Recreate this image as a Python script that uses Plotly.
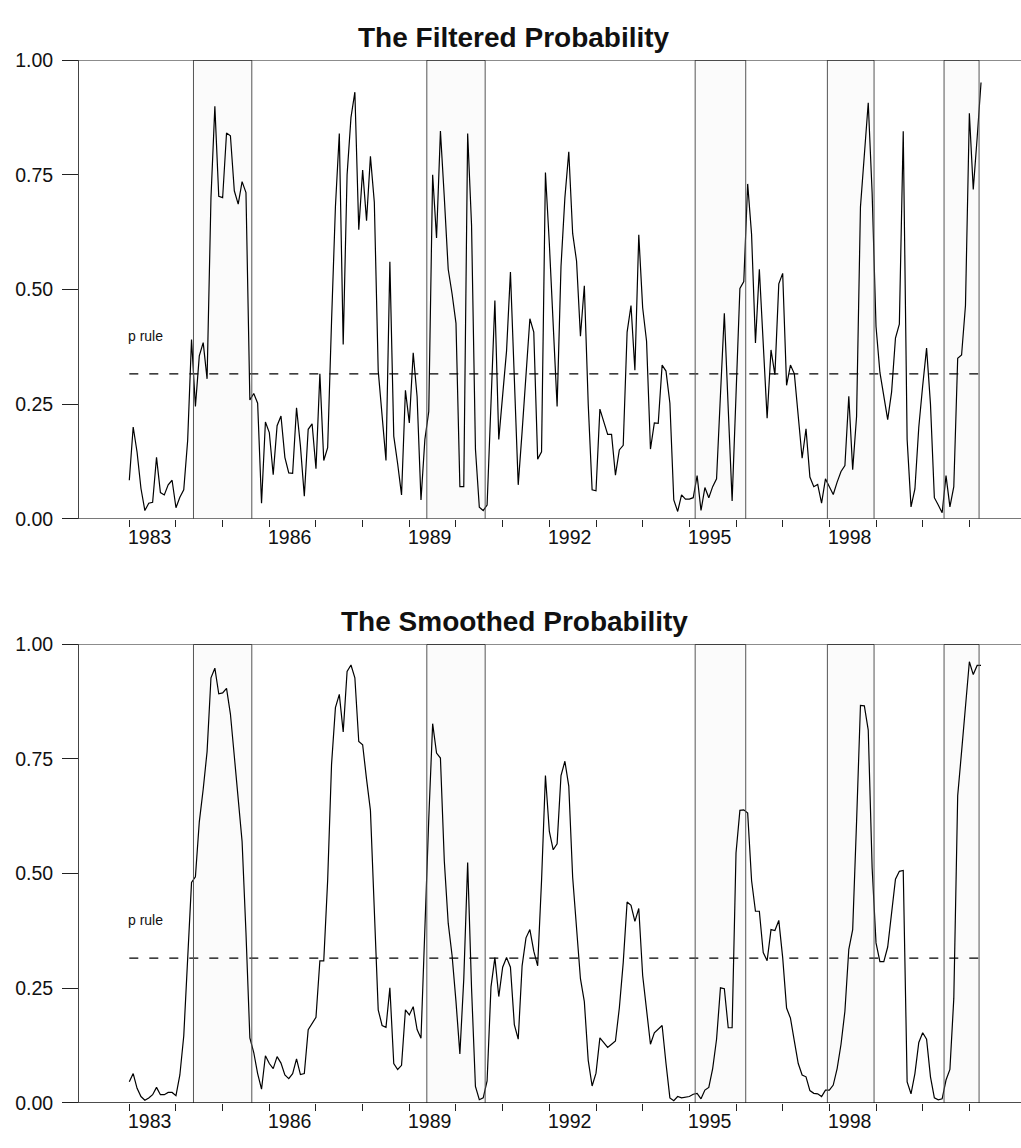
import numpy as np
import plotly.graph_objects as go

# ---------------- data (monthly, 1983:01 - 2001:04) ----------------
start_year = 1983
filtered = [
    0.084, 0.200, 0.145, 0.066, 0.018, 0.034, 0.036, 0.134, 0.057, 0.052, 0.074, 0.084,
    0.024, 0.047, 0.063, 0.170, 0.391, 0.245, 0.355, 0.384, 0.305, 0.700, 0.899, 0.703,
    0.700, 0.841, 0.835, 0.715, 0.686, 0.735, 0.711, 0.259, 0.273, 0.252, 0.034, 0.211,
    0.188, 0.096, 0.203, 0.224, 0.134, 0.100, 0.099, 0.242, 0.159, 0.049, 0.195, 0.207,
    0.109, 0.316, 0.127, 0.155, 0.430, 0.680, 0.840, 0.380, 0.750, 0.875, 0.930, 0.630,
    0.760, 0.650, 0.790, 0.690, 0.323, 0.220, 0.127, 0.560, 0.180, 0.120, 0.052, 0.280,
    0.209, 0.362, 0.266, 0.041, 0.173, 0.234, 0.750, 0.612, 0.845, 0.700, 0.544, 0.490,
    0.426, 0.070, 0.070, 0.840, 0.640, 0.152, 0.025, 0.018, 0.030, 0.252, 0.476, 0.173,
    0.270, 0.366, 0.538, 0.300, 0.074, 0.190, 0.316, 0.436, 0.407, 0.130, 0.146, 0.755,
    0.600, 0.438, 0.245, 0.550, 0.700, 0.800, 0.622, 0.562, 0.398, 0.508, 0.250, 0.063,
    0.061, 0.239, 0.210, 0.184, 0.184, 0.095, 0.150, 0.160, 0.407, 0.465, 0.324, 0.619,
    0.460, 0.387, 0.152, 0.209, 0.208, 0.335, 0.322, 0.252, 0.041, 0.016, 0.052, 0.043,
    0.043, 0.046, 0.094, 0.018, 0.068, 0.046, 0.070, 0.087, 0.270, 0.448, 0.240, 0.039,
    0.270, 0.502, 0.517, 0.730, 0.620, 0.383, 0.544, 0.380, 0.219, 0.368, 0.314, 0.512,
    0.535, 0.291, 0.335, 0.316, 0.220, 0.132, 0.196, 0.091, 0.070, 0.075, 0.034, 0.087,
    0.070, 0.053, 0.080, 0.103, 0.116, 0.267, 0.107, 0.223, 0.680, 0.790, 0.907, 0.710,
    0.419, 0.319, 0.267, 0.216, 0.276, 0.394, 0.424, 0.845, 0.173, 0.026, 0.065, 0.200,
    0.290, 0.372, 0.250, 0.046, 0.030, 0.013, 0.094, 0.026, 0.070, 0.350, 0.357, 0.465,
    0.884, 0.718, 0.830, 0.951,
]
smoothed = [
    0.046, 0.064, 0.032, 0.014, 0.006, 0.011, 0.018, 0.034, 0.018, 0.018, 0.023, 0.023,
    0.016, 0.061, 0.146, 0.299, 0.481, 0.493, 0.613, 0.684, 0.766, 0.927, 0.948, 0.892,
    0.894, 0.904, 0.848, 0.756, 0.663, 0.570, 0.371, 0.142, 0.110, 0.064, 0.030, 0.103,
    0.086, 0.075, 0.101, 0.087, 0.061, 0.053, 0.064, 0.096, 0.062, 0.064, 0.160, 0.175,
    0.187, 0.310, 0.310, 0.485, 0.738, 0.862, 0.891, 0.809, 0.941, 0.955, 0.927, 0.788,
    0.781, 0.706, 0.638, 0.420, 0.203, 0.169, 0.165, 0.251, 0.086, 0.073, 0.082, 0.203,
    0.192, 0.210, 0.160, 0.141, 0.400, 0.620, 0.827, 0.763, 0.752, 0.527, 0.392, 0.321,
    0.221, 0.107, 0.270, 0.524, 0.250, 0.036, 0.007, 0.011, 0.048, 0.253, 0.317, 0.232,
    0.296, 0.317, 0.296, 0.171, 0.139, 0.299, 0.360, 0.378, 0.331, 0.299, 0.485, 0.714,
    0.592, 0.552, 0.565, 0.714, 0.745, 0.691, 0.492, 0.371, 0.271, 0.221, 0.093, 0.037,
    0.065, 0.142, 0.132, 0.121, 0.128, 0.135, 0.207, 0.306, 0.438, 0.431, 0.396, 0.424,
    0.278, 0.207, 0.128, 0.153, 0.160, 0.169, 0.086, 0.011, 0.005, 0.014, 0.011, 0.012,
    0.014, 0.019, 0.021, 0.009, 0.028, 0.034, 0.075, 0.139, 0.251, 0.249, 0.164, 0.164,
    0.545, 0.638, 0.639, 0.632, 0.485, 0.418, 0.418, 0.328, 0.310, 0.378, 0.376, 0.398,
    0.317, 0.207, 0.185, 0.135, 0.086, 0.061, 0.057, 0.027, 0.021, 0.020, 0.014, 0.028,
    0.028, 0.039, 0.075, 0.128, 0.200, 0.335, 0.378, 0.613, 0.867, 0.866, 0.813, 0.513,
    0.349, 0.308, 0.308, 0.340, 0.420, 0.488, 0.505, 0.507, 0.046, 0.020, 0.064, 0.132,
    0.153, 0.139, 0.057, 0.011, 0.007, 0.009, 0.050, 0.073, 0.228, 0.670, 0.766, 0.870,
    0.962, 0.934, 0.954, 0.954,
]
p_rule = 0.316
regime_start = [1984.375, 1989.375, 1995.125, 1997.958, 2000.458]
regime_end = [1985.625, 1990.625, 1996.208, 1998.958, 2001.208]
year_labels = [1983, 1986, 1989, 1992, 1995, 1998]
year_ticks = list(range(1983, 2002))
ytick_vals = [0.0, 0.25, 0.5, 0.75, 1.0]
ytick_text = ["0.00", "0.25", "0.50", "0.75", "1.00"]
titles = ["The Filtered Probability", "The Smoothed Probability"]

months = np.arange(len(filtered))
x = start_year + months / 12.0

# ---------------- layout geometry ----------------
W, H = 1021, 1148
L = 79
PX_PER_YEAR = 46.67
x_lo = 1983 - (129.3 - L) / PX_PER_YEAR
x_hi = x_lo + (W - L) / PX_PER_YEAR
dom_top = [1 - 517.7 / H, 1 - 50.0 / H]
dom_bot = [1 - 1113.3 / H, 1 - 645.7 / H]
title_x = (514 - L) / (W - L)

FONT = "Liberation Sans, Arial, Helvetica, sans-serif"

fig = go.Figure()
shapes = []
annotations = []

panels = [("x", "y", filtered, dom_top, titles[0]), ("x2", "y2", smoothed, dom_bot, titles[1])]
for k, (xr, yr, series, dom, title) in enumerate(panels):
    # shaded regimes
    for s, e in zip(regime_start, regime_end):
        shapes.append(dict(type="rect", xref=xr, yref=yr, x0=s, x1=e, y0=0, y1=1,
                           fillcolor="#fbfbfb", line=dict(width=0), layer="below"))
        for xv in (s, e):
            shapes.append(dict(type="line", xref=xr, yref=yr, x0=xv, x1=xv, y0=0, y1=1,
                               line=dict(color="#555555", width=1)))
        shapes.append(dict(type="line", xref=xr, yref=yr, x0=s, x1=e, y0=1, y1=1,
                           line=dict(color="#111111", width=1.5)))
    # top line at 1.00 and bottom axis line at 0.00
    shapes.append(dict(type="line", xref=xr + " domain", yref=yr, x0=0, x1=1, y0=1, y1=1,
                       line=dict(color="#666666", width=1.2), layer="below"))
    shapes.append(dict(type="line", xref=xr + " domain", yref=yr, x0=0, x1=1, y0=0, y1=0,
                       line=dict(color="#111111", width=1.2)))

    fig.add_trace(go.Scatter(x=x, y=series, mode="lines", xaxis=xr, yaxis=yr,
                             line=dict(color="black", width=1.2), showlegend=False,
                             hoverinfo="skip"))
    fig.add_trace(go.Scatter(x=[x[0], x[-1]], y=[p_rule, p_rule], mode="lines",
                             xaxis=xr, yaxis=yr, showlegend=False, hoverinfo="skip",
                             line=dict(color="black", width=1.3, dash="9px,11px")))

    annotations.append(dict(xref=xr, yref=yr, x=1982.93, y=0.398, text="p rule",
                            showarrow=False, xanchor="left", yanchor="middle",
                            font=dict(family=FONT, size=14, color="#111111")))
    for yl in year_labels:
        annotations.append(dict(xref=xr, yref=yr, x=yl, y=0, yshift=-18, text=str(yl),
                                showarrow=False, xanchor="left", yanchor="middle",
                                xshift=-3,
                                font=dict(family=FONT, size=19.5, color="#111111")))
    annotations.append(dict(xref="paper", yref="paper", x=title_x,
                            y=dom[1], yshift=23, text="<b>%s</b>" % title, showarrow=False,
                            xanchor="center", yanchor="middle",
                            font=dict(family=FONT, size=28, color="#111111")))

axis_common_x = dict(range=[x_lo, x_hi], showgrid=False, zeroline=False, showline=False,
                     ticks="outside", ticklen=7, tickcolor="#222222", tickwidth=1,
                     tickvals=year_ticks, showticklabels=False)
axis_common_y = dict(range=[0, 1], showgrid=False, zeroline=False, showline=True,
                     linecolor="#444444", linewidth=1, ticks="outside", ticklen=16,
                     tickcolor="#222222", tickwidth=1.2, tickvals=ytick_vals,
                     ticktext=ytick_text, ticklabelstandoff=5,
                     tickfont=dict(family=FONT, size=19.5, color="#111111"))

fig.update_layout(
    width=W, height=H,
    margin=dict(l=L, r=0, t=0, b=0),
    paper_bgcolor="white", plot_bgcolor="white",
    xaxis=dict(domain=[0, 1], anchor="y", **axis_common_x),
    yaxis=dict(domain=dom_top, anchor="x", **axis_common_y),
    xaxis2=dict(domain=[0, 1], anchor="y2", **axis_common_x),
    yaxis2=dict(domain=dom_bot, anchor="x2", **axis_common_y),
    shapes=shapes,
    annotations=annotations,
)

fig.write_html("out.html")
